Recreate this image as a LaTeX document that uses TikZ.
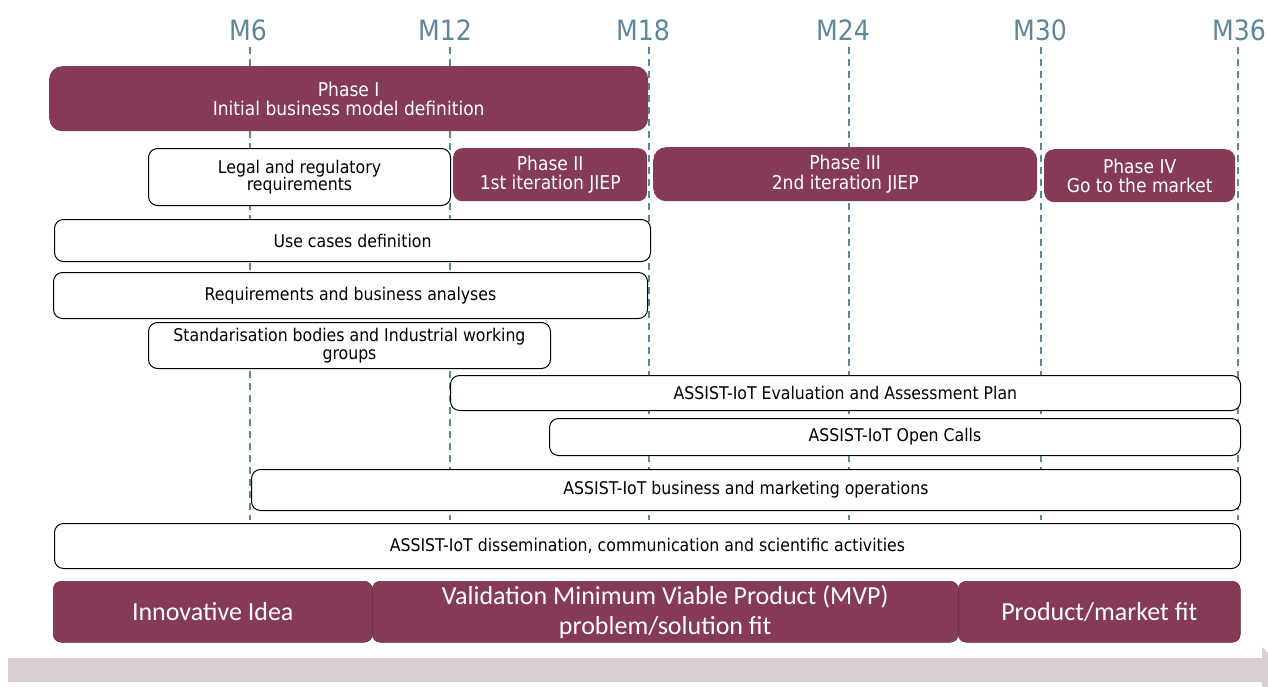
\documentclass[tikz,border=0pt]{standalone}
\usepackage{fontspec}
\setmainfont{DejaVu Sans Condensed}
\newfontfamily\calfont{Carlito}
\definecolor{maroon}{HTML}{853A57}
\definecolor{dashcol}{HTML}{5E8797}
\definecolor{arrowbg}{HTML}{D9CED3}
\tikzset{
  phase/.style={fill=maroon, draw=none, rounded corners=13pt, text=white,
    font=\fontsize{19}{19.5}\selectfont, align=center, anchor=north west, inner sep=0pt},
  act/.style={fill=white, draw=black, line width=1pt, rounded corners=9pt,
    font=\fontsize{17.5}{17.5}\selectfont, align=center, anchor=north west, inner sep=0pt},
  stage/.style={fill=maroon, draw=maroon!70!black, line width=0.5pt, rounded corners=8pt, text=white,
    font=\calfont\fontsize{26}{30}\selectfont, align=center, anchor=north west, inner sep=0pt},
  mlabel/.style={text=dashcol, font=\fontsize{28}{30}\selectfont, inner sep=0pt},
  dl/.style={draw=dashcol, line width=1.2pt, dash pattern=on 7pt off 5pt},
}
\begin{document}
\begin{tikzpicture}[x=1pt,y=-1pt]
\useasboundingbox (0,0) rectangle (1268,686);
\clip (0,0) rectangle (1268,686);
% month labels
\node[mlabel] (M6) at (248,30) {M6};
\node[mlabel] (M12) at (445,30) {M12};
\node[mlabel] (M18) at (643,30) {M18};
\node[mlabel] (M24) at (843,30) {M24};
\node[mlabel] (M30) at (1040,30) {M30};
\node[mlabel] (M36) at (1239,30) {M36};
\coordinate (e6) at (250,520);
\coordinate (e12) at (450,520);
\coordinate (e18) at (649,520);
\coordinate (e24) at (849,520);
\coordinate (e30) at (1041,520);
\coordinate (e36) at (1238,520);
\coordinate (s6) at (250,47);
\coordinate (s12) at (450,47);
\coordinate (s18) at (649,47);
\coordinate (s24) at (849,47);
\coordinate (s30) at (1041,47);
\coordinate (s36) at (1238,47);
\draw[dl] (s6) -- (e6);
\draw[dl] (s12) -- (e12);
\draw[dl] (s18) -- (e18);
\draw[dl] (s24) -- (e24);
\draw[dl] (s30) -- (e30);
\draw[dl] (s36) -- (e36);
% phases
\node[phase, minimum width=599pt, minimum height=65pt] (p1) at (49,66) {Phase I\\Initial business model definition};
\node[phase, minimum width=194pt, minimum height=53pt, rounded corners=9pt] (p2) at (453,148) {Phase II\\1st iteration JIEP};
\node[phase, minimum width=384pt, minimum height=54pt] (p3) at (653,147) {Phase III\\2nd iteration JIEP};
\node[phase, minimum width=191pt, minimum height=53pt, rounded corners=10pt] (p4) at (1044,149) {Phase IV\\Go to the market};
% activities
\node[act, minimum width=302pt, minimum height=57pt] (legal) at (148,148) {Legal and regulatory\\requirements};
\node[act, minimum width=596pt, minimum height=42pt] (uc) at (54,219) {Use cases definition};
\node[act, minimum width=594pt, minimum height=46pt] (req) at (53,272) {Requirements and business analyses};
\node[act, minimum width=402pt, minimum height=46pt] (std) at (148,322) {Standarisation bodies and Industrial working\\groups};
\node[act, minimum width=790pt, minimum height=35pt] (eval) at (450,375) {ASSIST-IoT Evaluation and Assessment Plan};
\node[act, minimum width=691pt, minimum height=37pt] (oc) at (549,418) {ASSIST-IoT Open Calls};
\node[act, minimum width=989pt, minimum height=41pt] (bm) at (251,469) {ASSIST-IoT business and marketing operations};
\node[act, minimum width=1186pt, minimum height=45pt] (dis) at (54,523) {ASSIST-IoT dissemination, communication and scientific activities};
% stages
\node[stage, minimum width=319pt, minimum height=61pt] (s1) at (53,581) {Innovative Idea};
\node[stage, minimum width=586pt, minimum height=61pt] (s2) at (372,581) {Validation Minimum Viable Product (MVP)\\problem/solution fit};
\node[stage, minimum width=282pt, minimum height=61pt] (s3) at (958,581) {Product/market fit};
% bottom arrow
\fill[arrowbg] (8,658) -- (1262,658) -- (1262,647) -- (1286,670) -- (1262,693) -- (1262,682) -- (8,682) -- cycle;
\end{tikzpicture}
\end{document}
